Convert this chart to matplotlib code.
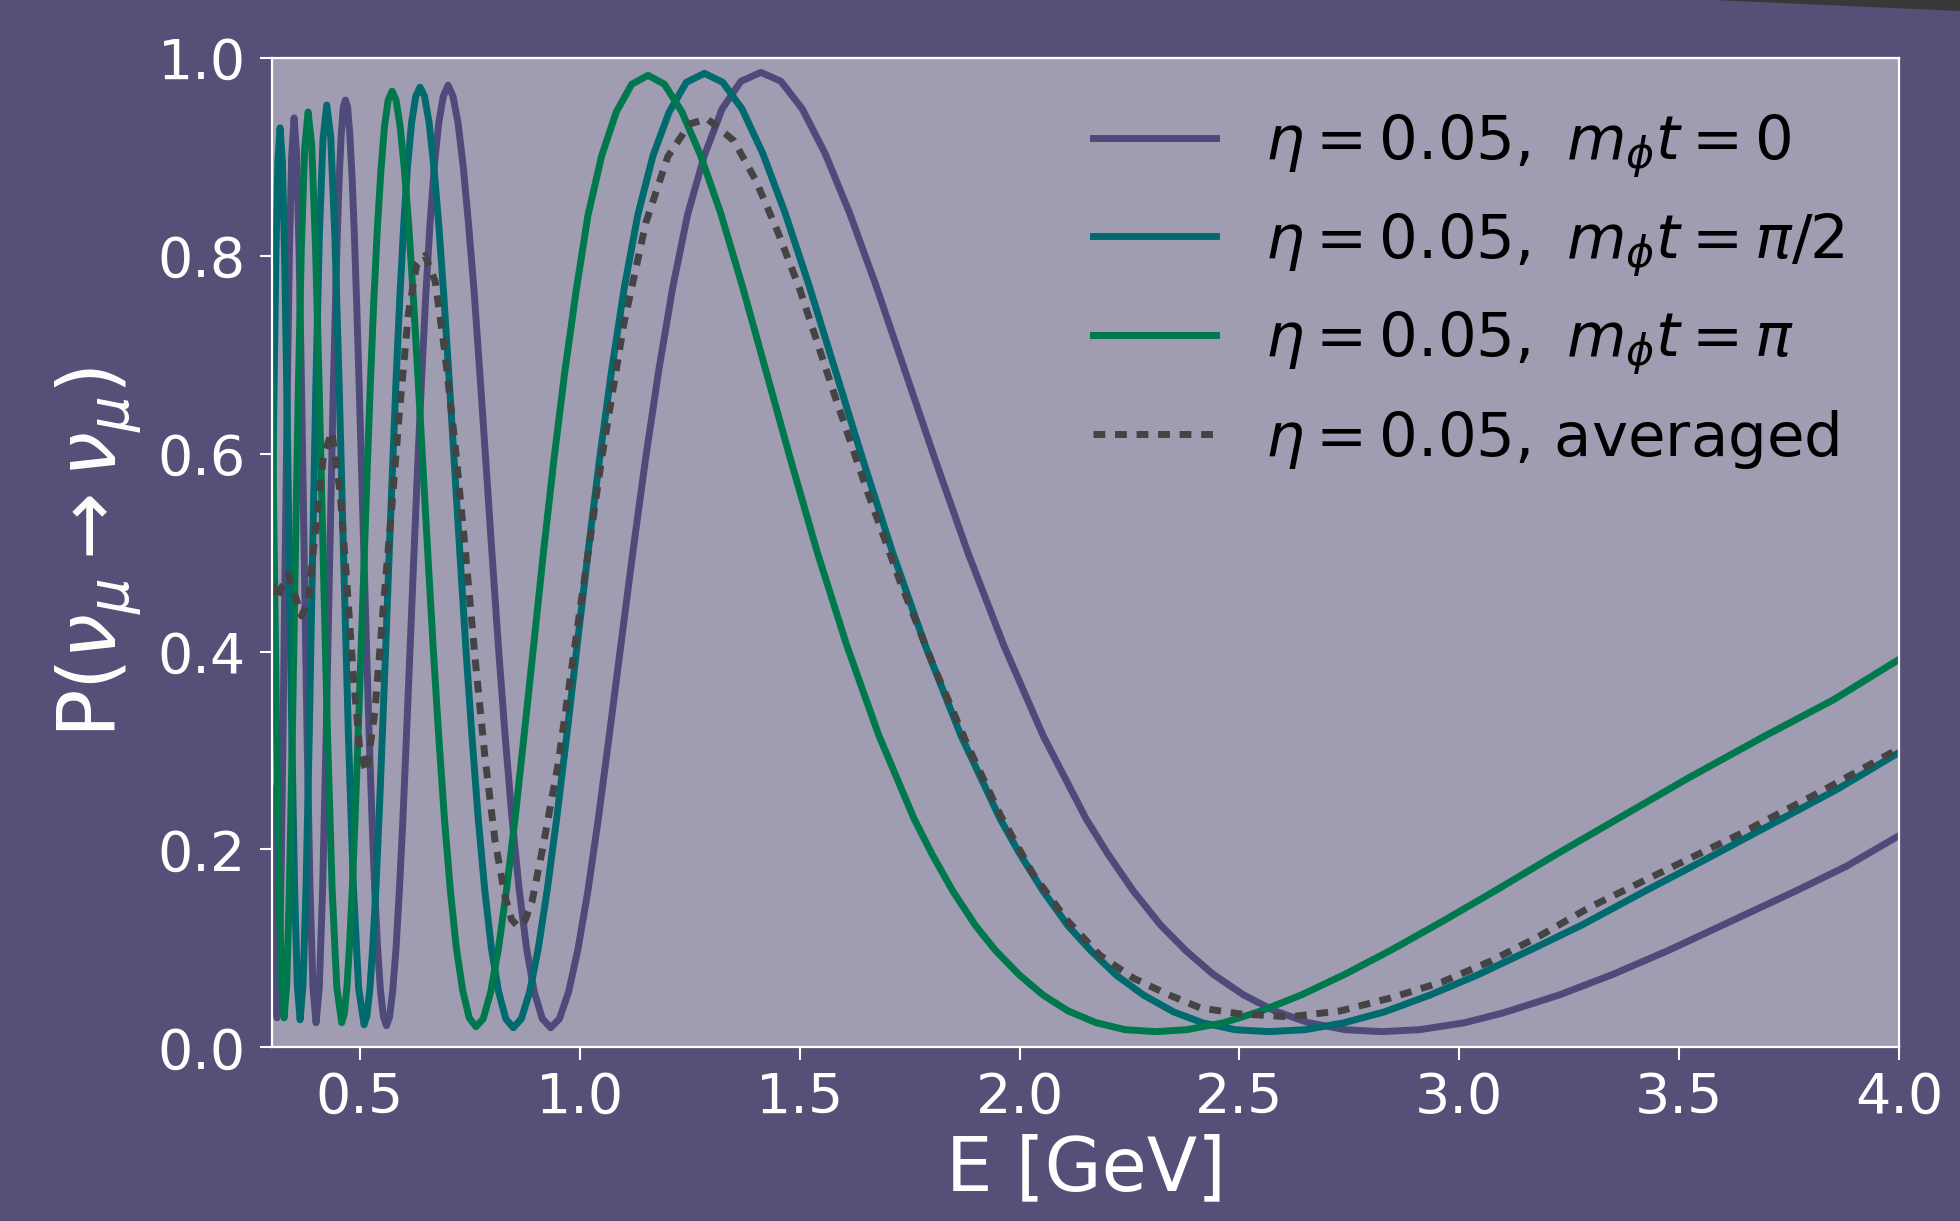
"""
Survival probability P(nu_mu -> nu_mu) vs energy for eta = 0.05,
three phases of the scalar field plus the time-averaged curve.

Output: out.png
"""

import matplotlib.pyplot as plt
from matplotlib.patches import Polygon

# ──────────────────────────────────────────────
# 0. Data
# ──────────────────────────────────────────────
# m_phi t = 0
E_T0 = [0.300, 0.3028, 0.3070, 0.3112, 0.3156, 0.3201, 0.3248, 0.3295, 0.3344, 0.3395,
        0.3447, 0.3501, 0.3557, 0.3614, 0.3673, 0.3735, 0.3798, 0.3863, 0.3931, 0.4001,
        0.4074, 0.4150, 0.4228, 0.4309, 0.4394, 0.4482, 0.4527, 0.4573, 0.4620, 0.4668,
        0.4718, 0.4768, 0.4819, 0.4871, 0.4925, 0.4980, 0.5036, 0.5093, 0.5151, 0.5211,
        0.5273, 0.5335, 0.5400, 0.5465, 0.5533,
        0.5602, 0.5673, 0.5746, 0.5821, 0.5897, 0.5976, 0.6056, 0.6139, 0.6225, 0.6312,
        0.6403, 0.6495, 0.6591, 0.6689, 0.6791, 0.6895, 0.7003, 0.7114, 0.7229, 0.7347,
        0.7470, 0.7596, 0.7727, 0.7863, 0.8003, 0.8149, 0.8300, 0.8456, 0.8619, 0.8788,
        0.8964, 0.9147, 0.9337, 0.9536, 0.9743, 0.9960, 1.0186, 1.0423, 1.0671, 1.0931,
        1.1204, 1.1492, 1.1794, 1.2113, 1.2449, 1.2831, 1.3234, 1.3663, 1.4118, 1.4573,
        1.5059, 1.5578, 1.6134, 1.6732, 1.7375, 1.8070, 1.8823, 1.9642, 2.0535, 2.1512,
        2.200, 2.2588, 2.320, 2.3777, 2.440, 2.5098, 2.580, 2.6574, 2.740, 2.8235,
        2.910, 3.0117, 3.100, 3.2269, 3.350, 3.4751, 3.620, 3.7647, 3.880, 4.000]
P_T0 = [0.262, 0.162, 0.064, 0.030, 0.064, 0.162, 0.310, 0.483, 0.655, 0.803,
        0.901, 0.939, 0.904, 0.806, 0.661, 0.486, 0.311, 0.161, 0.060, 0.025,
        0.060, 0.160, 0.311, 0.488, 0.668, 0.819, 0.878, 0.922, 0.950, 0.957,
        0.950, 0.923, 0.880, 0.822, 0.751, 0.670, 0.583, 0.492, 0.400, 0.312,
        0.231, 0.159, 0.101, 0.058, 0.031,
        0.022, 0.031, 0.058, 0.101, 0.160, 0.231, 0.314, 0.403, 0.496, 0.588,
        0.677, 0.759, 0.831, 0.890, 0.934, 0.961, 0.972, 0.961, 0.934, 0.890,
        0.831, 0.763, 0.680, 0.591, 0.498, 0.404, 0.315, 0.232, 0.160, 0.100,
        0.056, 0.029, 0.020, 0.029, 0.056, 0.100, 0.159, 0.232, 0.316, 0.406,
        0.500, 0.594, 0.684, 0.768, 0.841, 0.901, 0.948, 0.976, 0.985, 0.976,
        0.948, 0.903, 0.843, 0.770, 0.686, 0.595, 0.500, 0.406, 0.315, 0.231,
        0.196, 0.158, 0.124, 0.098, 0.074, 0.053, 0.037, 0.025, 0.018, 0.016,
        0.018, 0.025, 0.035, 0.053, 0.074, 0.098, 0.128, 0.158, 0.183, 0.214]

# m_phi t = pi/2
E_T1 = [0.300, 0.3041, 0.3087, 0.3134, 0.3183, 0.3234, 0.3286, 0.3340, 0.3395, 0.3453,
        0.3512, 0.3574, 0.3638, 0.3704, 0.3773, 0.3844, 0.3918, 0.3995, 0.4074, 0.4158,
        0.4244, 0.4334, 0.4429, 0.4527, 0.4630, 0.4738, 0.4851, 0.4969,
        0.5093, 0.5157, 0.5224, 0.5291, 0.5361, 0.5433, 0.5506, 0.5581, 0.5659, 0.5739,
        0.5821, 0.5905, 0.5992, 0.6081, 0.6173, 0.6268, 0.6366, 0.6467, 0.6572, 0.6679,
        0.6791, 0.6906, 0.7025, 0.7148, 0.7276, 0.7408, 0.7545, 0.7687, 0.7835, 0.7989,
        0.8149, 0.8315, 0.8488, 0.8669, 0.8857, 0.9054, 0.9260, 0.9475, 0.9701, 0.9938,
        1.0186, 1.0447, 1.0722, 1.1012, 1.1318, 1.1664, 1.2031, 1.2421, 1.2834, 1.3248,
        1.3689, 1.4161, 1.4667, 1.5210, 1.5795, 1.6427, 1.7112, 1.7856, 1.8667, 1.9556,
        2.000, 2.0534, 2.110, 2.1615, 2.220, 2.2816, 2.350, 2.4158, 2.490, 2.5668,
        2.650, 2.7379, 2.830, 2.9334, 3.040, 3.1591, 3.280, 3.4223, 3.560, 3.7335,
        3.860, 4.000]
P_T1 = [0.498, 0.652, 0.799, 0.896, 0.929, 0.896, 0.799, 0.652, 0.480, 0.308,
        0.161, 0.063, 0.028, 0.063, 0.162, 0.312, 0.488, 0.666, 0.817, 0.917,
        0.952, 0.920, 0.819, 0.668, 0.490, 0.313, 0.161, 0.060,
        0.023, 0.032, 0.059, 0.102, 0.160, 0.232, 0.313, 0.400, 0.493, 0.584,
        0.675, 0.757, 0.829, 0.890, 0.934, 0.961, 0.970, 0.961, 0.934, 0.890,
        0.831, 0.759, 0.677, 0.588, 0.496, 0.403, 0.315, 0.232, 0.160, 0.100,
        0.057, 0.029, 0.020, 0.029, 0.056, 0.100, 0.160, 0.232, 0.315, 0.406,
        0.500, 0.594, 0.684, 0.768, 0.841, 0.901, 0.945, 0.975, 0.984, 0.975,
        0.948, 0.903, 0.843, 0.770, 0.686, 0.595, 0.500, 0.406, 0.315, 0.231,
        0.196, 0.158, 0.123, 0.098, 0.073, 0.053, 0.036, 0.025, 0.018, 0.016,
        0.018, 0.025, 0.036, 0.053, 0.073, 0.098, 0.124, 0.158, 0.190, 0.231,
        0.261, 0.298]

# m_phi t = pi
E_T2 = [0.300, 0.3056, 0.3107, 0.3161, 0.3216, 0.3274, 0.3333, 0.3395, 0.3459, 0.3526,
        0.3595, 0.3667, 0.3742, 0.3820, 0.3901, 0.3986, 0.4074, 0.4167, 0.4264, 0.4365,
        0.4472,
        0.4584, 0.4642, 0.4701, 0.4762, 0.4825, 0.4889, 0.4955, 0.5023, 0.5093, 0.5165,
        0.5238, 0.5314, 0.5393, 0.5473, 0.5556, 0.5641, 0.5730, 0.5820, 0.5914, 0.6011,
        0.6112, 0.6215, 0.6322, 0.6433, 0.6548, 0.6667, 0.6791, 0.6919, 0.7052, 0.7190,
        0.7334, 0.7483, 0.7639, 0.7802, 0.7972, 0.8149, 0.8334, 0.8528, 0.8731, 0.8944,
        0.9167, 0.9402, 0.9650, 0.9911, 1.0186, 1.0498, 1.0828, 1.1179, 1.1551, 1.1923,
        1.2321, 1.2746, 1.3201, 1.3690, 1.4216, 1.4785, 1.5401, 1.6071, 1.6801, 1.7601,
        1.800, 1.8481, 1.900, 1.9454, 2.000, 2.0535, 2.110, 2.1743, 2.240, 2.3102,
        2.380, 2.4642, 2.550, 2.6402, 2.740, 2.8433, 2.960, 3.0802, 3.220, 3.3602,
        3.520, 3.6962, 3.850, 4.000]
P_T2 = [0.667, 0.480, 0.308, 0.161, 0.064, 0.030, 0.064, 0.161, 0.310, 0.485,
        0.660, 0.809, 0.908, 0.945, 0.912, 0.813, 0.663, 0.487, 0.312, 0.161,
        0.061,
        0.025, 0.034, 0.060, 0.103, 0.161, 0.232, 0.313, 0.400, 0.490, 0.585,
        0.673, 0.754, 0.826, 0.884, 0.930, 0.957, 0.966, 0.957, 0.930, 0.886,
        0.828, 0.756, 0.674, 0.586, 0.494, 0.402, 0.314, 0.232, 0.160, 0.101,
        0.058, 0.030, 0.021, 0.029, 0.056, 0.100, 0.160, 0.232, 0.315, 0.404,
        0.498, 0.591, 0.680, 0.763, 0.841, 0.901, 0.945, 0.973, 0.982, 0.973,
        0.945, 0.901, 0.843, 0.770, 0.686, 0.595, 0.500, 0.406, 0.315, 0.231,
        0.196, 0.158, 0.123, 0.098, 0.073, 0.053, 0.037, 0.025, 0.018, 0.016,
        0.018, 0.025, 0.037, 0.053, 0.074, 0.098, 0.127, 0.158, 0.195, 0.231,
        0.272, 0.315, 0.351, 0.392]

# averaged over m_phi t
E_AVG = [0.300, 0.310, 0.322, 0.337, 0.352, 0.367, 0.382, 0.398, 0.417, 0.436,
         0.455, 0.470, 0.485, 0.500, 0.515, 0.534, 0.553, 0.572, 0.591, 0.610,
         0.629, 0.648, 0.671, 0.693, 0.716, 0.739, 0.762, 0.784, 0.807, 0.830,
         0.845, 0.860, 0.875, 0.891, 0.917, 0.950, 1.000, 1.050, 1.100, 1.150,
         1.200, 1.250, 1.290, 1.350, 1.400, 1.450, 1.500, 1.577, 1.652, 1.728,
         1.804, 1.880, 1.956, 2.031, 2.107, 2.183, 2.259, 2.335, 2.411, 2.500,
         2.615, 2.730, 2.843, 2.960, 3.070, 3.180, 3.298, 3.450, 3.635, 3.820, 4.000]
P_AVG = [0.468, 0.452, 0.465, 0.478, 0.457, 0.436, 0.450, 0.519, 0.598, 0.622,
         0.560, 0.470, 0.375, 0.298, 0.278, 0.340, 0.445, 0.544, 0.649, 0.741,
         0.791, 0.800, 0.774, 0.702, 0.610, 0.505, 0.392, 0.294, 0.209, 0.152,
         0.129, 0.122, 0.128, 0.147, 0.205, 0.285, 0.441, 0.596, 0.731, 0.833,
         0.900, 0.933, 0.938, 0.916, 0.876, 0.824, 0.766, 0.662, 0.564, 0.471,
         0.386, 0.307, 0.235, 0.175, 0.129, 0.093, 0.070, 0.054, 0.040, 0.034,
         0.031, 0.037, 0.050, 0.066, 0.087, 0.112, 0.142, 0.175, 0.215, 0.258, 0.302]

LABELS = [
    r"$\eta = 0.05,\ m_\phi t = 0$",
    r"$\eta = 0.05,\ m_\phi t = \pi/2$",
    r"$\eta = 0.05,\ m_\phi t = \pi$",
    r"$\eta = 0.05$, averaged",
]
X_TICKS = [0.5, 1.0, 1.5, 2.0, 2.5, 3.0, 3.5, 4.0]
Y_TICKS = [0.0, 0.2, 0.4, 0.6, 0.8, 1.0]

# ──────────────────────────────────────────────
# 1. Style
# ──────────────────────────────────────────────
BG = "#565078"
FACE = "#a09db2"
C_T0 = "#4e4b7b"
C_T1 = "#006a6e"
C_T2 = "#00784e"
C_AVG = "#444444"

plt.rcParams.update({
    "font.family": "DejaVu Sans",
    "mathtext.fontset": "dejavusans",
    "axes.edgecolor": "white",
    "axes.linewidth": 1.6,
    "xtick.color": "white",
    "ytick.color": "white",
    "xtick.major.size": 9,
    "ytick.major.size": 9,
    "xtick.major.width": 1.5,
    "ytick.major.width": 1.5,
    "xtick.labelsize": 40,
    "ytick.labelsize": 40,
})

fig = plt.figure(figsize=(19.6, 12.21), dpi=100, facecolor=BG)
ax = fig.add_axes([0.1388, 0.1421, 0.8301, 0.8108])
ax.set_facecolor(FACE)

# dark corner of the slide behind the figure
fig.patches.append(Polygon([(1713 / 1960, 1.0), (1.0, 1.0), (1.0, 1 - 10.7 / 1221)],
                           closed=True, transform=fig.transFigure,
                           facecolor="#383838", edgecolor="none"))

# ──────────────────────────────────────────────
# 2. Curves
# ──────────────────────────────────────────────
ax.plot(E_T0, P_T0, color=C_T0, lw=5, label=LABELS[0])
ax.plot(E_T1, P_T1, color=C_T1, lw=5, label=LABELS[1])
ax.plot(E_T2, P_T2, color=C_T2, lw=5, label=LABELS[2])
ax.plot(E_AVG, P_AVG, color=C_AVG, lw=5, dashes=(1.7, 1.4), label=LABELS[3])

# ──────────────────────────────────────────────
# 3. Axes formatting
# ──────────────────────────────────────────────
ax.set_xlim(0.3, 4.0)
ax.set_ylim(0.0, 1.0)
ax.set_xticks(X_TICKS)
ax.set_yticks(Y_TICKS)
ax.set_xticklabels([f"{v:.1f}" for v in X_TICKS])
ax.set_yticklabels([f"{v:.1f}" for v in Y_TICKS])
ax.tick_params(axis="x", pad=8)
ax.tick_params(axis="y", pad=10)

ax.set_xlabel("E [GeV]", fontsize=53, color="white", labelpad=6)
ax.set_ylabel(r"P$(\nu_\mu \to \nu_\mu)$", fontsize=58, color="white", labelpad=10)

ax.legend(loc="upper right", frameon=False, fontsize=44,
          handlelength=2.0, labelspacing=0.5)

fig.savefig("out.png", dpi=100, facecolor=BG)
plt.close(fig)
